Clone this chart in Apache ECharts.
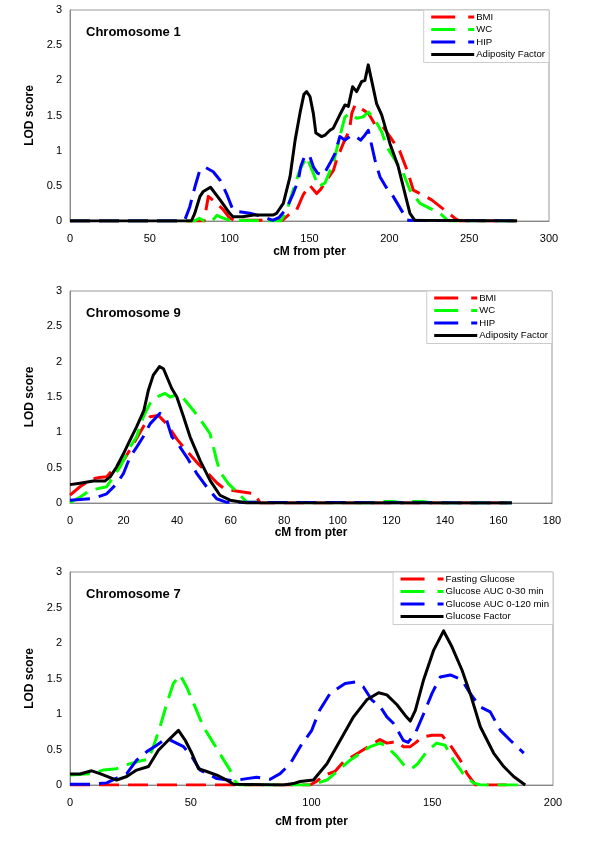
<!DOCTYPE html>
<html><head><meta charset="utf-8">
<script src="https://cdn.jsdelivr.net/npm/echarts@6/dist/echarts.min.js"></script>
<style>html,body{margin:0;padding:0;background:#fff}#c{width:600px;height:862px}</style>
</head><body><div id="c"></div>
<script>
// ---------- Data: [cM from pter, LOD score] ----------
const chr1_BMI = [[0,0],[84,0],[86.6,0.35],[92,0.25],[96,0.16],[100,0.04],[103,0.01],[133,0.01],[138,0.11],[142,0.16],[146,0.37],[150,0.51],[154.5,0.39],[157,0.45],[160.7,0.58],[165,0.72],[167,0.87],[172,1.15],[175,1.29],[176.5,1.53],[178.5,1.65],[183.6,1.58],[187,1.53],[191,1.37],[196,1.34],[200.4,1.2],[206.6,0.99],[211.8,0.68],[215,0.44],[221,0.37],[226.5,0.3],[236,0.13],[241,0.04],[244,0],[280,0]];
const chr1_WC = [[0,0],[78,0],[81,0.04],[84,0],[89,0],[92,0.08],[96,0.04],[100,0.01],[132,0],[135.7,0.14],[139.8,0.44],[144,0.73],[148.2,0.91],[152.4,0.68],[155.5,0.49],[159.7,0.54],[164.9,0.82],[169,1.2],[172.2,1.48],[175.3,1.53],[179.5,1.46],[183.6,1.48],[186.8,1.55],[191,1.44],[195.2,1.27],[198.3,1.06],[203.5,0.87],[208.7,0.68],[212.9,0.44],[219.2,0.25],[225.4,0.18],[231.7,0.11],[237,0],[280,0]];
const chr1_HIP = [[0,0],[70,0],[72,0.02],[75,0.2],[78.3,0.49],[81.4,0.73],[85,0.76],[89.7,0.7],[94,0.58],[98,0.39],[102,0.16],[106,0.13],[112.7,0.11],[121,0.06],[127,0.01],[131,0.05],[135.7,0.18],[139.8,0.39],[143,0.58],[144.5,0.77],[147.2,0.94],[150.3,0.91],[152.4,0.77],[155,0.68],[158.6,0.65],[162.8,0.82],[166,0.96],[169,1.2],[172.2,1.15],[175.3,1.2],[178,1.22],[182,1.15],[184,1.2],[186.8,1.29],[191,0.87],[194.1,0.63],[198,0.48],[202.4,0.35],[208.7,0.11],[211,0.01],[280,0]];
const chr1_Factor = [[0,0],[76,0],[78,0.1],[81.4,0.35],[83.5,0.42],[88,0.48],[94,0.3],[100,0.11],[102,0.06],[108,0.06],[115,0.085],[127,0.085],[129.4,0.11],[133.6,0.25],[137.8,0.63],[141,1.15],[144,1.53],[146.5,1.8],[148.2,1.84],[150.3,1.77],[152.4,1.53],[154,1.25],[157.6,1.2],[159.7,1.22],[162.8,1.29],[164.9,1.32],[169,1.51],[172.2,1.65],[174.3,1.63],[177,1.91],[179.5,1.84],[182.6,1.98],[184.7,2.0],[186.8,2.22],[188.9,2.0],[192,1.67],[195.2,1.51],[200.4,1.1],[205.6,0.77],[209.8,0.39],[212.9,0.11],[216,0.01],[280,0]];

const chr9_BMI = [[0,0.11],[3.7,0.23],[8.1,0.34],[11,0.36],[13.7,0.37],[16.8,0.51],[20,0.6],[23.7,0.84],[27.4,1.08],[29.9,1.22],[33,1.24],[36.1,1.12],[40,0.9],[44,0.72],[48,0.55],[52,0.4],[55,0.28],[58,0.19],[62,0.17],[69,0.13],[71,0],[165,0]];
const chr9_WC = [[0,0.01],[3.7,0.08],[7.5,0.18],[10,0.2],[13.7,0.23],[16.2,0.37],[18.7,0.51],[22.4,0.79],[24.9,0.94],[27.4,1.22],[29.9,1.41],[32.4,1.5],[35.5,1.55],[37.4,1.5],[39.9,1.53],[42.4,1.48],[46.1,1.31],[49.8,1.12],[52.3,0.98],[54.8,0.6],[56,0.44],[59.2,0.27],[62.3,0.16],[66,0.01],[112,0],[116,0.02],[121,0.02],[124,0],[127,0.02],[132,0.02],[135,0],[165,0]];
const chr9_HIP = [[0,0.04],[7.5,0.06],[10,0.08],[13.7,0.13],[17.4,0.27],[20,0.42],[22.4,0.65],[24.9,0.79],[27.4,0.94],[29.9,1.12],[33.6,1.27],[36.1,1.17],[38,0.94],[41.1,0.79],[43.6,0.65],[47.3,0.42],[51,0.23],[54.8,0.06],[58.5,0.01],[165,0]];
const chr9_Factor = [[0,0.26],[3.7,0.28],[8.7,0.31],[13,0.31],[15,0.37],[17.4,0.51],[20,0.7],[22.4,0.89],[24.9,1.08],[27.6,1.31],[29.3,1.6],[31.1,1.81],[33.4,1.93],[34.9,1.9],[38,1.62],[39.9,1.5],[42.4,1.22],[44.8,0.94],[48.6,0.6],[52.3,0.32],[56,0.11],[59.8,0.04],[66,0],[165,0]];

const chr7_Fasting = [[0,0],[99.4,0],[102,0.05],[105.5,0.14],[109.7,0.19],[113.3,0.33],[119.3,0.45],[123.5,0.54],[128.3,0.64],[131.2,0.59],[133,0.6],[135.4,0.61],[138,0.54],[140.9,0.54],[142.9,0.59],[146,0.68],[149.9,0.7],[154,0.7],[157.5,0.56],[161.6,0.35],[164.4,0.16],[166.4,0.07],[168,0],[182,0]];
const chr7_AUC30 = [[0,0.14],[8.3,0.16],[13.8,0.21],[19.3,0.23],[24.9,0.3],[30.4,0.35],[32.5,0.36],[34.5,0.54],[37.3,0.82],[40.1,1.15],[42.8,1.43],[45.6,1.55],[48.3,1.38],[51.8,1.1],[55.2,0.82],[59.4,0.59],[62.8,0.4],[66.3,0.21],[68.4,0.05],[70,0],[100,0],[106.4,0.07],[111.9,0.23],[116,0.35],[120.3,0.45],[124.3,0.54],[128.5,0.59],[131.2,0.54],[135.4,0.4],[138.8,0.26],[141.4,0.23],[144,0.3],[147.7,0.47],[151.8,0.59],[155.3,0.56],[158.8,0.35],[162.8,0.16],[165.6,0.07],[167,0.03],[170,0],[188,0]];
const chr7_AUC120 = [[0,0.01],[8.3,0.01],[15.2,0.03],[20.7,0.12],[23.5,0.16],[27.6,0.35],[31.8,0.47],[35.9,0.56],[40.1,0.66],[42.8,0.61],[47,0.54],[50.4,0.4],[53.9,0.21],[58,0.14],[60.8,0.09],[67.7,0.06],[73.2,0.09],[77.3,0.11],[82.9,0.08],[87,0.16],[91.2,0.3],[95.3,0.54],[100.1,0.77],[103.3,1.05],[107.7,1.29],[113.9,1.43],[118.1,1.45],[121.5,1.38],[124.9,1.2],[128.5,1.1],[131.2,0.96],[133.9,0.87],[136,0.75],[138,0.63],[140,0.6],[143,0.73],[146.4,1.0],[149.9,1.29],[153.3,1.52],[157.5,1.55],[162.3,1.48],[165.7,1.29],[169.9,1.1],[174,1.03],[178.2,0.77],[182.3,0.63],[187.9,0.45]];
const chr7_Factor = [[0,0.155],[4.1,0.155],[9,0.2],[12.4,0.16],[19.3,0.07],[23.5,0.12],[27.6,0.21],[32.5,0.26],[36.6,0.49],[40.7,0.63],[44.9,0.77],[47.7,0.63],[50.4,0.45],[53.2,0.23],[56.6,0.19],[60.8,0.14],[64.9,0.07],[67.7,0.01],[88.4,0],[92.5,0.02],[95.3,0.05],[100.8,0.07],[106.4,0.3],[111.9,0.63],[117.4,0.96],[122.9,1.2],[127.8,1.3],[131.2,1.27],[135.4,1.13],[138.8,0.98],[140.9,0.9],[143,1.05],[146.4,1.48],[150.6,1.9],[154.7,2.17],[158.1,1.95],[162.3,1.62],[165.7,1.29],[169.9,0.82],[175.4,0.45],[179.6,0.26],[183.7,0.12],[188.5,0]];

const panelTitles = ['Chromosome 1', 'Chromosome 9', 'Chromosome 7'];
const xMax = [300, 180, 200];
const xInterval = [50, 20, 50];
const yTicks = [0, 0.5, 1, 1.5, 2, 2.5, 3];
const namesAdip = ['BMI', 'WC', 'HIP', 'Adiposity Factor'];
const namesGluc = ['Fasting Glucose', 'Glucose AUC 0-30 min', 'Glucose AUC 0-120 min', 'Glucose Factor'];
const panelSeries = [
  [chr1_BMI, chr1_WC, chr1_HIP, chr1_Factor],
  [chr9_BMI, chr9_WC, chr9_HIP, chr9_Factor],
  [chr7_Fasting, chr7_AUC30, chr7_AUC120, chr7_Factor]
];
const panelNames = [namesAdip, namesAdip, namesGluc];

// ---------- Styling / layout ----------
const colors = ['#ff0000', '#00ff00', '#0000ff', '#000000'];
const FONT = 'Liberation Sans, Arial, sans-serif';
const grids = [
  {left: 70, top: 10, width: 479, height: 211},
  {left: 70, top: 291, width: 482, height: 212},
  {left: 70, top: 572, width: 483, height: 213}
];
const xNameGap = [25, 24, 31];

const option = {
  animation: false,
  backgroundColor: '#fff',
  grid: grids.map(g => Object.assign({show: true, borderColor: '#999', borderWidth: 1, backgroundColor: 'transparent'}, g)),
  xAxis: grids.map((g, i) => ({
    type: 'value', gridIndex: i, min: 0, max: xMax[i], interval: xInterval[i],
    name: 'cM from pter', nameLocation: 'middle', nameGap: xNameGap[i],
    nameTextStyle: {fontFamily: FONT, fontSize: 12, fontWeight: 'bold', color: '#000'},
    axisLine: {lineStyle: {color: '#888', width: 1}},
    axisTick: {show: false},
    splitLine: {show: false},
    axisLabel: {fontFamily: FONT, fontSize: 11, color: '#000', margin: 12}
  })),
  yAxis: grids.map((g, i) => ({
    type: 'value', gridIndex: i, min: 0, max: 3, interval: 0.5,
    name: 'LOD score', nameLocation: 'middle', nameGap: 33,
    nameTextStyle: {fontFamily: FONT, fontSize: 12, fontWeight: 'bold', color: '#000'},
    axisLine: {show: true, lineStyle: {color: '#888', width: 1}},
    axisTick: {show: false},
    splitLine: {show: false},
    axisLabel: {fontFamily: FONT, fontSize: 11, color: '#000', margin: 8,
      formatter: v => yTicks.indexOf(v) >= 0 ? String(v) : ''}
  })),
  title: grids.map((g, i) => ({
    text: panelTitles[i], left: 81, top: g.top + 11,
    textStyle: {fontFamily: FONT, fontSize: 13, fontWeight: 'bold', color: '#000'}
  })),
  legend: grids.map((g, i) => ({
    orient: 'vertical',
    right: 600 - (g.left + g.width),
    top: g.top,
    itemWidth: 43, itemHeight: 8, itemGap: 2.5,
    padding: [2, 4, 3, 6],
    backgroundColor: '#fff',
    borderColor: '#ccc', borderWidth: 1, borderRadius: 0,
    textStyle: {fontFamily: FONT, fontSize: 9.6, lineHeight: 10, color: '#000', padding: [0, 0, 0, -3]},
    data: panelNames[i].map((n, k) => ({
      name: n,
      itemStyle: {opacity: 0},
      lineStyle: k < 3 ? {type: [24, 13], width: 3, color: colors[k]} : {type: 'solid', width: 3, color: '#000'}
    }))
  })),
  series: []
};

panelSeries.forEach((arr, i) => {
  arr.forEach((data, k) => {
    option.series.push({
      type: 'line', name: panelNames[i][k], xAxisIndex: i, yAxisIndex: i,
      data: data, symbol: 'none', smooth: false,
      lineStyle: {color: colors[k], width: 3, type: k < 3 ? [20, 9] : 'solid', cap: 'butt', join: 'round'},
      itemStyle: {color: colors[k]},
      emphasis: {disabled: true}
    });
  });
});

const chart = echarts.init(document.getElementById('c'), null, {renderer: 'canvas'});
chart.setOption(option);
</script>
</body></html>
